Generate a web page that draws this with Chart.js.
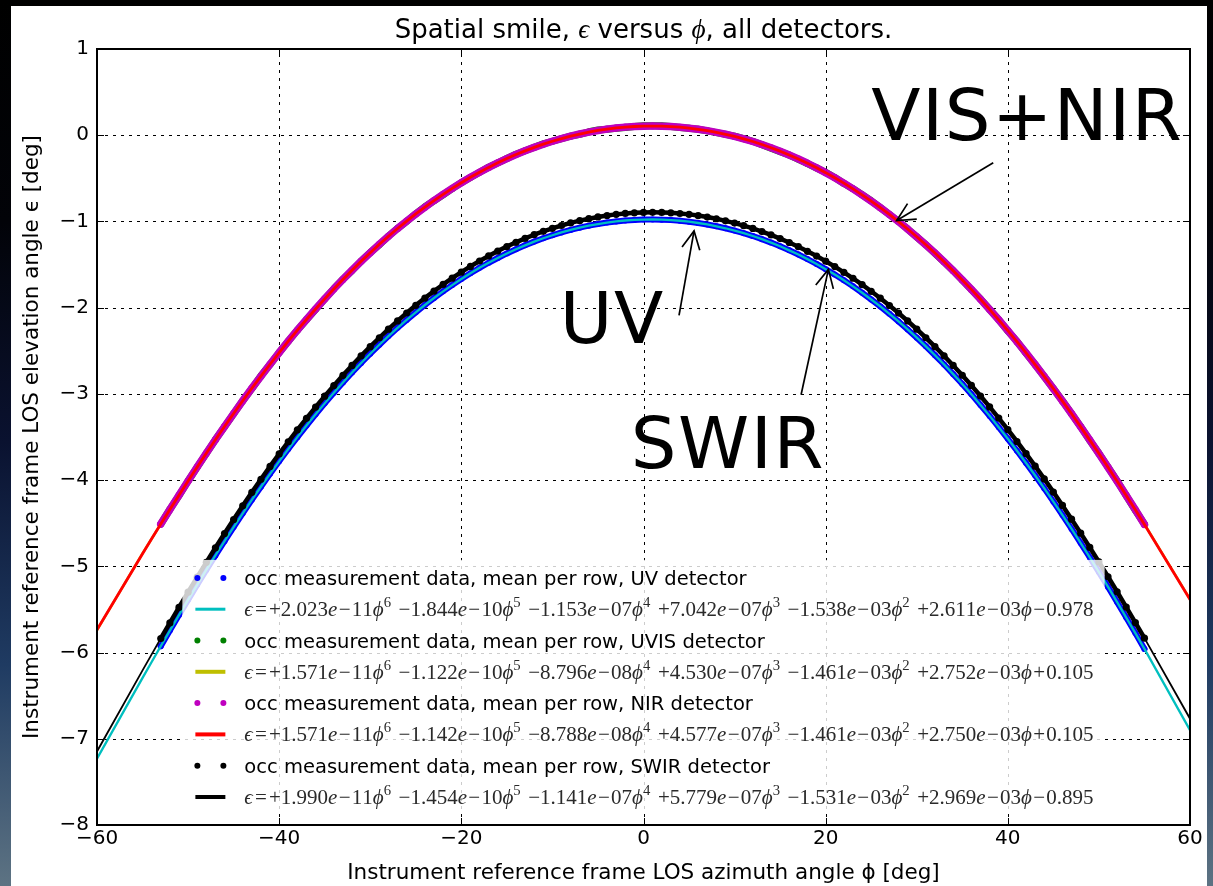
<!DOCTYPE html>
<html>
<head>
<meta charset="utf-8">
<script src="https://cdn.jsdelivr.net/npm/chart.js@4.4.1/dist/chart.umd.min.js"></script>
<style>
  html, body {
    margin: 0; padding: 0; width: 1213px; height: 886px; overflow: hidden;
    background: linear-gradient(180deg, #000 0%, #020308 25%, #0a1230 50%, #1f3b62 75%, #5d7383 100%);
  }
  canvas { position: absolute; left: 0; top: 0; }
</style>
</head>
<body>
<canvas id="smile" width="1213" height="886"></canvas>
<script>
// ---- Azimuth samples (deg) ----
// detector rows (measurements)
const rowAzimuth = [
  -53,-52,-51,-50,-49,-48,-47,-46,-45,-44,-43,-42,-41,-40,-39,-38,-37,-36,-35,-34,
  -33,-32,-31,-30,-29,-28,-27,-26,-25,-24,-23,-22,-21,-20,-19,-18,-17,-16,-15,-14,
  -13,-12,-11,-10,-9,-8,-7,-6,-5,-4,-3,-2,-1,0,1,2,3,4,5,6,7,8,9,10,11,12,13,14,15,16,
  17,18,19,20,21,22,23,24,25,26,27,28,29,30,31,32,33,34,35,36,37,38,39,40,41,42,43,44,
  45,46,47,48,49,50,51,52,53,54,55
];
// polynomial fit curves
const fitAzimuth = [
  -60,-55,-54,
  -53,-52,-51,-50,-49,-48,-47,-46,-45,-44,-43,-42,-41,-40,-39,-38,-37,-36,-35,-34,
  -33,-32,-31,-30,-29,-28,-27,-26,-25,-24,-23,-22,-21,-20,-19,-18,-17,-16,-15,-14,
  -13,-12,-11,-10,-9,-8,-7,-6,-5,-4,-3,-2,-1,0,1,2,3,4,5,6,7,8,9,10,11,12,13,14,15,16,
  17,18,19,20,21,22,23,24,25,26,27,28,29,30,31,32,33,34,35,36,37,38,39,40,41,42,43,44,
  45,46,47,48,49,50,51,52,53,54,55,
  60
];

// ---- Elevation (deg): UV detector ----
const uvFitEps = [
  -7.231, -6.294, -6.109,
  -5.926, -5.745, -5.565, -5.389, -5.214, -5.042, -4.874, -4.708, -4.545, -4.385,
  -4.229, -4.077, -3.927, -3.782, -3.640, -3.502, -3.367, -3.237, -3.110, -2.987,
  -2.868, -2.753, -2.641, -2.534, -2.430, -2.330, -2.234, -2.142, -2.054, -1.969,
  -1.888, -1.811, -1.738, -1.668, -1.601, -1.538, -1.479, -1.424, -1.371, -1.322,
  -1.277, -1.234, -1.195, -1.160, -1.127, -1.098, -1.072, -1.049, -1.030, -1.013,
  -1.000, -0.989, -0.982, -0.978, -0.977, -0.979, -0.984, -0.992, -1.003, -1.018,
  -1.035, -1.056, -1.079, -1.106, -1.136, -1.169, -1.206, -1.245, -1.288, -1.335,
  -1.384, -1.437, -1.493, -1.553, -1.616, -1.683, -1.753, -1.827, -1.905, -1.986,
  -2.071, -2.160, -2.252, -2.348, -2.448, -2.552, -2.659, -2.771, -2.886, -3.005,
  -3.128, -3.255, -3.386, -3.521, -3.659, -3.801, -3.947, -4.096, -4.250, -4.406,
  -4.566, -4.730, -4.897, -5.067, -5.239, -5.415, -5.594, -5.774, -5.958,
  -6.900
];
const uvRowEps = [
  -5.926, -5.745, -5.565, -5.389, -5.214, -5.042, -4.874, -4.708, -4.545, -4.385,
  -4.229, -4.077, -3.927, -3.782, -3.640, -3.502, -3.367, -3.237, -3.110, -2.987,
  -2.868, -2.753, -2.641, -2.534, -2.430, -2.330, -2.234, -2.142, -2.054, -1.969,
  -1.888, -1.811, -1.738, -1.668, -1.601, -1.538, -1.479, -1.424, -1.371, -1.322,
  -1.277, -1.234, -1.195, -1.160, -1.127, -1.098, -1.072, -1.049, -1.030, -1.013,
  -1.000, -0.989, -0.982, -0.978, -0.977, -0.979, -0.984, -0.992, -1.003, -1.018,
  -1.035, -1.056, -1.079, -1.106, -1.136, -1.169, -1.206, -1.245, -1.288, -1.335,
  -1.384, -1.437, -1.493, -1.553, -1.616, -1.683, -1.753, -1.827, -1.905, -1.986,
  -2.071, -2.160, -2.252, -2.348, -2.448, -2.552, -2.659, -2.771, -2.886, -3.005,
  -3.128, -3.255, -3.386, -3.521, -3.659, -3.801, -3.947, -4.096, -4.250, -4.406,
  -4.566, -4.730, -4.897, -5.067, -5.239, -5.415, -5.594, -5.774, -5.958
];

// ---- Elevation (deg): UVIS detector ----
const uvisFitEps = [
  -5.74, -4.85, -4.68,
  -4.51, -4.34, -4.18, -4.01, -3.85, -3.69, -3.53, -3.38, -3.23, -3.08,
  -2.94, -2.79, -2.66, -2.52, -2.39, -2.26, -2.14, -2.02, -1.90, -1.78,
  -1.67, -1.57, -1.46, -1.36, -1.27, -1.17, -1.08, -1.00, -0.91, -0.83,
  -0.76, -0.69, -0.62, -0.55, -0.49, -0.43, -0.37, -0.32, -0.27, -0.22,
  -0.18, -0.14, -0.10, -0.07, -0.04, -0.01, 0.01, 0.04, 0.06, 0.07,
  0.08, 0.09, 0.10, 0.11, 0.11, 0.11, 0.10, 0.09, 0.08, 0.07,
  0.05, 0.03, 0.01, -0.01, -0.04, -0.07, -0.11, -0.15, -0.19, -0.23,
  -0.28, -0.33, -0.38, -0.43, -0.49, -0.56, -0.62, -0.69, -0.76, -0.84,
  -0.92, -1.00, -1.09, -1.18, -1.27, -1.37, -1.47, -1.57, -1.68, -1.79,
  -1.90, -2.02, -2.14, -2.27, -2.39, -2.53, -2.66, -2.80, -2.94, -3.08,
  -3.23, -3.38, -3.54, -3.69, -3.85, -4.01, -4.18, -4.35, -4.51,
  -5.38
];
const uvisRowEps = [
  -4.51, -4.34, -4.18, -4.01, -3.85, -3.69, -3.53, -3.38, -3.23, -3.08,
  -2.94, -2.79, -2.66, -2.52, -2.39, -2.26, -2.14, -2.02, -1.90, -1.78,
  -1.67, -1.57, -1.46, -1.36, -1.27, -1.17, -1.08, -1.00, -0.91, -0.83,
  -0.76, -0.69, -0.62, -0.55, -0.49, -0.43, -0.37, -0.32, -0.27, -0.22,
  -0.18, -0.14, -0.10, -0.07, -0.04, -0.01, 0.01, 0.04, 0.06, 0.07,
  0.08, 0.09, 0.10, 0.11, 0.11, 0.11, 0.10, 0.09, 0.08, 0.07,
  0.05, 0.03, 0.01, -0.01, -0.04, -0.07, -0.11, -0.15, -0.19, -0.23,
  -0.28, -0.33, -0.38, -0.43, -0.49, -0.56, -0.62, -0.69, -0.76, -0.84,
  -0.92, -1.00, -1.09, -1.18, -1.27, -1.37, -1.47, -1.57, -1.68, -1.79,
  -1.90, -2.02, -2.14, -2.27, -2.39, -2.53, -2.66, -2.80, -2.94, -3.08,
  -3.23, -3.38, -3.54, -3.69, -3.85, -4.01, -4.18, -4.35, -4.51
];

// ---- Elevation (deg): NIR detector ----
const nirFitEps = [
  -5.736, -4.854, -4.681,
  -4.510, -4.341, -4.175, -4.010, -3.848, -3.689, -3.532, -3.379, -3.228, -3.080,
  -2.935, -2.794, -2.656, -2.521, -2.389, -2.261, -2.137, -2.015, -1.898, -1.783,
  -1.673, -1.566, -1.462, -1.362, -1.265, -1.172, -1.082, -0.996, -0.913, -0.834,
  -0.758, -0.686, -0.617, -0.551, -0.488, -0.429, -0.373, -0.320, -0.271, -0.224,
  -0.181, -0.141, -0.104, -0.070, -0.039, -0.011, 0.014, 0.036, 0.055, 0.071,
  0.084, 0.094, 0.101, 0.105, 0.106, 0.105, 0.100, 0.093, 0.082, 0.069,
  0.053, 0.033, 0.011, -0.014, -0.042, -0.073, -0.108, -0.145, -0.185, -0.229,
  -0.275, -0.325, -0.378, -0.434, -0.494, -0.556, -0.622, -0.691, -0.764, -0.840,
  -0.919, -1.002, -1.088, -1.178, -1.271, -1.367, -1.467, -1.571, -1.678, -1.788,
  -1.902, -2.020, -2.141, -2.266, -2.394, -2.525, -2.660, -2.798, -2.939, -3.084,
  -3.231, -3.382, -3.536, -3.692, -3.852, -4.014, -4.178, -4.345, -4.514,
  -5.385
];
const nirRowEps = [
  -4.510, -4.341, -4.175, -4.010, -3.848, -3.689, -3.532, -3.379, -3.228, -3.080,
  -2.935, -2.794, -2.656, -2.521, -2.389, -2.261, -2.137, -2.015, -1.898, -1.783,
  -1.673, -1.566, -1.462, -1.362, -1.265, -1.172, -1.082, -0.996, -0.913, -0.834,
  -0.758, -0.686, -0.617, -0.551, -0.488, -0.429, -0.373, -0.320, -0.271, -0.224,
  -0.181, -0.141, -0.104, -0.070, -0.039, -0.011, 0.014, 0.036, 0.055, 0.071,
  0.084, 0.094, 0.101, 0.105, 0.106, 0.105, 0.100, 0.093, 0.082, 0.069,
  0.053, 0.033, 0.011, -0.014, -0.042, -0.073, -0.108, -0.145, -0.185, -0.229,
  -0.275, -0.325, -0.378, -0.434, -0.494, -0.556, -0.622, -0.691, -0.764, -0.840,
  -0.919, -1.002, -1.088, -1.178, -1.271, -1.367, -1.467, -1.571, -1.678, -1.788,
  -1.902, -2.020, -2.141, -2.266, -2.394, -2.525, -2.660, -2.798, -2.939, -3.084,
  -3.231, -3.382, -3.536, -3.692, -3.852, -4.014, -4.178, -4.345, -4.514
];

// ---- Elevation (deg): SWIR detector ----
const swirFitEps = [
  -7.147, -6.206, -6.021,
  -5.837, -5.656, -5.477, -5.300, -5.126, -4.954, -4.785, -4.620, -4.457, -4.298,
  -4.142, -3.990, -3.841, -3.696, -3.555, -3.417, -3.283, -3.153, -3.026, -2.904,
  -2.785, -2.670, -2.559, -2.452, -2.349, -2.249, -2.154, -2.062, -1.973, -1.889,
  -1.808, -1.731, -1.658, -1.588, -1.522, -1.459, -1.400, -1.344, -1.291, -1.242,
  -1.197, -1.154, -1.115, -1.080, -1.047, -1.017, -0.991, -0.968, -0.948, -0.931,
  -0.918, -0.907, -0.900, -0.895, -0.894, -0.895, -0.900, -0.908, -0.918, -0.932,
  -0.949, -0.969, -0.993, -1.019, -1.049, -1.081, -1.117, -1.156, -1.199, -1.244,
  -1.293, -1.346, -1.402, -1.461, -1.524, -1.590, -1.659, -1.733, -1.810, -1.890,
  -1.975, -2.063, -2.154, -2.250, -2.349, -2.452, -2.559, -2.670, -2.784, -2.902,
  -3.025, -3.151, -3.281, -3.414, -3.552, -3.693, -3.838, -3.986, -4.139, -4.294,
  -4.453, -4.615, -4.781, -4.949, -5.121, -5.295, -5.472, -5.652, -5.833,
  -6.767
];
const swirRowEps = [
  -5.837, -5.656, -5.477, -5.300, -5.126, -4.954, -4.785, -4.620, -4.457, -4.298,
  -4.142, -3.990, -3.841, -3.696, -3.555, -3.417, -3.283, -3.153, -3.026, -2.904,
  -2.785, -2.670, -2.559, -2.452, -2.349, -2.249, -2.154, -2.062, -1.973, -1.889,
  -1.808, -1.731, -1.658, -1.588, -1.522, -1.459, -1.400, -1.344, -1.291, -1.242,
  -1.197, -1.154, -1.115, -1.080, -1.047, -1.017, -0.991, -0.968, -0.948, -0.931,
  -0.918, -0.907, -0.900, -0.895, -0.894, -0.895, -0.900, -0.908, -0.918, -0.932,
  -0.949, -0.969, -0.993, -1.019, -1.049, -1.081, -1.117, -1.156, -1.199, -1.244,
  -1.293, -1.346, -1.402, -1.461, -1.524, -1.590, -1.659, -1.733, -1.810, -1.890,
  -1.975, -2.063, -2.154, -2.250, -2.349, -2.452, -2.559, -2.670, -2.784, -2.902,
  -3.025, -3.151, -3.281, -3.414, -3.552, -3.693, -3.838, -3.986, -4.139, -4.294,
  -4.453, -4.615, -4.781, -4.949, -5.121, -5.295, -5.472, -5.652, -5.833
];

// ---- Axis ticks ----
const xTicks = [-60, -40, -20, 0, 20, 40, 60];
const yTicks = [-8, -7, -6, -5, -4, -3, -2, -1, 0, 1];

// ---- Legend texts ----
const legendLabels = [
  'occ measurement data, mean per row, UV detector',
  'ϵ=+2.023e−11ϕ^6 −1.844e−10ϕ^5 −1.153e−07ϕ^4 +7.042e−07ϕ^3 −1.538e−03ϕ^2 +2.611e−03ϕ−0.978',
  'occ measurement data, mean per row, UVIS detector',
  'ϵ=+1.571e−11ϕ^6 −1.122e−10ϕ^5 −8.796e−08ϕ^4 +4.530e−07ϕ^3 −1.461e−03ϕ^2 +2.752e−03ϕ+0.105',
  'occ measurement data, mean per row, NIR detector',
  'ϵ=+1.571e−11ϕ^6 −1.142e−10ϕ^5 −8.788e−08ϕ^4 +4.577e−07ϕ^3 −1.461e−03ϕ^2 +2.750e−03ϕ+0.105',
  'occ measurement data, mean per row, SWIR detector',
  'ϵ=+1.990e−11ϕ^6 −1.454e−10ϕ^5 −1.141e−07ϕ^4 +5.779e−07ϕ^3 −1.531e−03ϕ^2 +2.969e−03ϕ−0.895'
];

// ---- Detector call-outs: label anchor and arrow, in (azimuth, elevation) ----
const callouts = [
  { text: 'VIS+NIR', at: [25.0, -0.05], tail: [38.4, -0.32], head: [27.8, -0.99] },
  { text: 'UV',      at: [-9.2, -2.41], tail: [3.9, -2.09],  head: [5.55, -1.11] },
  { text: 'SWIR',    at: [-1.4, -3.86], tail: [17.3, -3.01], head: [20.3, -1.556] }
];

const SANS = "'DejaVu Sans', 'Bitstream Vera Sans', sans-serif";
const SERIF = "'Liberation Serif', 'DejaVu Serif', serif";
const minus = v => (v < 0 ? '\u2212' + Math.abs(v) : String(v));

const rows = eps => rowAzimuth.map((x, i) => ({ x, y: eps[i] }));
const fits = eps => fitAzimuth.map((x, i) => ({ x, y: eps[i] }));

// ---- tiny math-text layout for the fit equations ----
function mathRuns(label) {
  const chars = Array.from(label);
  const runs = [];
  for (let i = 0; i < chars.length; i++) {
    const ch = chars[i], prev = chars[i - 1];
    if (ch === '^') { runs.push({ t: chars[++i], sup: true }); continue; }
    if (ch === ' ') { runs.push({ gap: 0.36 }); continue; }
    if (ch === '=') { runs.push({ t: '=', padL: 0.1, padR: 0.1 }); continue; }
    if ((ch === '\u2212' || ch === '+') && prev && prev !== ' ' && prev !== '=') {
      runs.push({ t: ch, padL: 0.06, padR: 0.06 }); continue;
    }
    runs.push({ t: ch, italic: ch === 'e' || ch === 'ϵ' || ch === 'ϕ' });
  }
  return runs;
}
function runFont(r, size) {
  const s = r.sup ? size * 0.7 : size;
  return (r.italic ? 'italic ' : '') + s + 'px ' + SERIF;
}
function runsWidth(ctx, runs, size) {
  let w = 0;
  runs.forEach(r => {
    if (r.gap) { w += r.gap * size; return; }
    ctx.font = runFont(r, size);
    w += (r.padL || 0) * size + ctx.measureText(r.t).width + (r.padR || 0) * size;
  });
  return w;
}
function drawRuns(ctx, runs, size, x, baseline) {
  runs.forEach(r => {
    if (r.gap) { x += r.gap * size; return; }
    ctx.font = runFont(r, size);
    x += (r.padL || 0) * size;
    ctx.fillText(r.t, x, baseline - (r.sup ? 0.42 * size : 0));
    x += ctx.measureText(r.t).width + (r.padR || 0) * size;
  });
}
const isMath = d => d.label.startsWith('ϵ');

// ---- plugins ----
const figureBackground = {
  id: 'figureBackground',
  beforeDraw(chart) {
    const { ctx } = chart;
    ctx.save();
    ctx.fillStyle = '#ffffff';
    ctx.fillRect(11, 6, 1196, 880);
    ctx.restore();
  }
};

const dottedGrid = {
  id: 'dottedGrid',
  beforeDatasetsDraw(chart) {
    const { ctx, chartArea: a, scales: { x, y } } = chart;
    ctx.save();
    ctx.strokeStyle = '#000';
    ctx.lineWidth = 1;
    ctx.setLineDash([3, 5]);
    xTicks.forEach(v => {
      const px = Math.round(x.getPixelForValue(v)) + 0.5;
      ctx.beginPath(); ctx.moveTo(px, a.bottom); ctx.lineTo(px, a.top); ctx.stroke();
    });
    yTicks.forEach(v => {
      const py = Math.round(y.getPixelForValue(v)) + 0.5;
      ctx.beginPath(); ctx.moveTo(a.left, py); ctx.lineTo(a.right, py); ctx.stroke();
    });
    ctx.restore();
  }
};

function drawLegend(chart) {
  const { ctx, chartArea: a } = chart;
  const sets = chart.data.datasets;
  const rowH = 31.3, sansSize = 19.5;
  ctx.save();
  const mathRef = Math.max(...sets.filter(isMath).map(d => runsWidth(ctx, mathRuns(d.label), 20)));
  const mathSize = 20 * 850 / mathRef;
  ctx.font = sansSize + 'px ' + SANS;
  const widths = sets.map(d => isMath(d)
    ? runsWidth(ctx, mathRuns(d.label), mathSize)
    : (ctx.font = sansSize + 'px ' + SANS, ctx.measureText(d.label).width));
  const boxW = 62 + Math.max(...widths) + 11;
  const boxX = (a.left + a.right) / 2 - boxW / 2;
  const boxBottom = a.bottom - 14;
  const firstRow = boxBottom - 14 - 7 * rowH;
  const boxTop = firstRow - 18;
  ctx.fillStyle = 'rgba(255,255,255,0.8)';
  ctx.fillRect(boxX, boxTop, boxW, boxBottom - boxTop);
  sets.forEach((d, i) => {
    const y = firstRow + i * rowH;
    const hx = boxX + 13;
    if (d.legendKind === 'dots') {
      ctx.fillStyle = d.backgroundColor;
      [hx + 2, hx + 28].forEach(cx => { ctx.beginPath(); ctx.arc(cx, y, 3, 0, Math.PI * 2); ctx.fill(); });
    } else {
      ctx.strokeStyle = d.borderColor;
      ctx.lineWidth = d.legendWidth;
      ctx.beginPath(); ctx.moveTo(hx, y); ctx.lineTo(hx + 30, y); ctx.stroke();
    }
    const tx = boxX + 62;
    ctx.textBaseline = 'alphabetic';
    if (isMath(d)) {
      ctx.fillStyle = '#2a2a2a';
      drawRuns(ctx, mathRuns(d.label), mathSize, tx, y + 0.32 * mathSize);
    } else {
      ctx.fillStyle = '#000';
      ctx.font = sansSize + 'px ' + SANS;
      ctx.fillText(d.label, tx, y + 0.36 * sansSize);
    }
  });
  ctx.restore();
}

function drawCallouts(chart) {
  const { ctx, scales: { x, y } } = chart;
  ctx.save();
  ctx.fillStyle = '#000';
  ctx.strokeStyle = '#000';
  ctx.textBaseline = 'alphabetic';
  ctx.textAlign = 'left';
  ctx.font = '72px ' + SANS;
  if ('letterSpacing' in ctx) ctx.letterSpacing = '1.5px';
  callouts.forEach(c => {
    ctx.fillText(c.text, x.getPixelForValue(c.at[0]), y.getPixelForValue(c.at[1]));
    const tx = x.getPixelForValue(c.tail[0]), ty = y.getPixelForValue(c.tail[1]);
    const hx = x.getPixelForValue(c.head[0]), hy = y.getPixelForValue(c.head[1]);
    const len = Math.hypot(hx - tx, hy - ty);
    const ux = (hx - tx) / len, uy = (hy - ty) / len;
    const L = 18, W = 9;
    ctx.lineWidth = 1.7;
    ctx.beginPath(); ctx.moveTo(tx, ty); ctx.lineTo(hx, hy); ctx.stroke();
    ctx.beginPath();
    ctx.moveTo(hx - ux * L - uy * W, hy - uy * L + ux * W);
    ctx.lineTo(hx, hy);
    ctx.lineTo(hx - ux * L + uy * W, hy - uy * L - ux * W);
    ctx.stroke();
  });
  ctx.restore();
}

function drawFrame(chart) {
  const { ctx, chartArea: a, scales: { x, y } } = chart;
  ctx.save();
  ctx.strokeStyle = '#000';
  ctx.lineWidth = 1;
  const T = 7;
  xTicks.forEach(v => {
    const px = Math.round(x.getPixelForValue(v)) + 0.5;
    ctx.beginPath();
    ctx.moveTo(px, a.bottom); ctx.lineTo(px, a.bottom - T);
    ctx.moveTo(px, a.top); ctx.lineTo(px, a.top + T);
    ctx.stroke();
  });
  yTicks.forEach(v => {
    const py = Math.round(y.getPixelForValue(v)) + 0.5;
    ctx.beginPath();
    ctx.moveTo(a.left, py); ctx.lineTo(a.left + T, py);
    ctx.moveTo(a.right, py); ctx.lineTo(a.right - T, py);
    ctx.stroke();
  });
  ctx.lineWidth = 2;
  ctx.strokeRect(a.left, a.top, a.right - a.left, a.bottom - a.top);
  ctx.restore();
}

function drawTitle(chart) {
  const { ctx, chartArea: a } = chart;
  const size = 26;
  const sans = size + 'px ' + SANS;
  const math = 'italic ' + (size * 1.05) + 'px ' + SERIF;
  const parts = [
    { t: 'Spatial smile, ', f: sans },
    { t: 'ϵ', f: math },
    { t: ' versus ', f: sans },
    { t: 'ϕ', f: math },
    { t: ', all detectors.', f: sans }
  ];
  ctx.save();
  ctx.fillStyle = '#000';
  ctx.textBaseline = 'alphabetic';
  ctx.textAlign = 'left';
  let total = 0;
  parts.forEach(p => { ctx.font = p.f; p.w = ctx.measureText(p.t).width; total += p.w; });
  let x = (a.left + a.right) / 2 - total / 2;
  parts.forEach(p => { ctx.font = p.f; ctx.fillText(p.t, x, 38); x += p.w; });
  ctx.restore();
}

const overlays = {
  id: 'overlays',
  afterDatasetsDraw(chart) {
    drawLegend(chart);
    drawCallouts(chart);
    drawFrame(chart);
    drawTitle(chart);
  }
};

// ---- datasets (listed in legend order; `order` stacks later ones on top) ----
const datasets = [
  { label: legendLabels[0], legendKind: 'dots', data: rows(uvRowEps), order: 8,
    borderColor: '#0000ff', backgroundColor: '#0000ff', borderWidth: 6, pointRadius: 3, showLine: true },
  { label: legendLabels[1], legendKind: 'line', legendWidth: 3, data: fits(uvFitEps), order: 7,
    borderColor: '#00bfbf', backgroundColor: '#00bfbf', borderWidth: 2.3, pointRadius: 0, showLine: true },
  { label: legendLabels[2], legendKind: 'dots', data: rows(uvisRowEps), order: 6,
    borderColor: '#008000', backgroundColor: '#008000', borderWidth: 7, pointRadius: 3, showLine: true },
  { label: legendLabels[3], legendKind: 'line', legendWidth: 4, data: fits(uvisFitEps), order: 5,
    borderColor: '#bfbf00', backgroundColor: '#bfbf00', borderWidth: 2.5, pointRadius: 0, showLine: true },
  { label: legendLabels[4], legendKind: 'dots', data: rows(nirRowEps), order: 4,
    borderColor: '#bf00bf', backgroundColor: '#bf00bf', borderWidth: 7.5, pointRadius: 3.5, showLine: true },
  { label: legendLabels[5], legendKind: 'line', legendWidth: 4, data: fits(nirFitEps), order: 3,
    borderColor: '#ff0000', backgroundColor: '#ff0000', borderWidth: 2.8, pointRadius: 0, showLine: true },
  { label: legendLabels[6], legendKind: 'dots', data: rows(swirRowEps), order: 2,
    borderColor: '#000000', backgroundColor: '#000000', borderWidth: 4.5, pointRadius: 3.6, showLine: true },
  { label: legendLabels[7], legendKind: 'line', legendWidth: 4, data: fits(swirFitEps), order: 1,
    borderColor: '#000000', backgroundColor: '#000000', borderWidth: 1.8, pointRadius: 0, showLine: true }
];
datasets.forEach(d => {
  d.pointBorderWidth = 0;
  d.pointHoverRadius = 0;
  d.tension = 0;
  d.borderCapStyle = 'round';
  d.borderJoinStyle = 'round';
  d.clip = 0;
});

new Chart(document.getElementById('smile'), {
  type: 'scatter',
  data: { datasets },
  plugins: [figureBackground, dottedGrid, overlays],
  options: {
    responsive: false,
    animation: false,
    events: [],
    layout: { padding: { left: 20, right: 23, top: 49, bottom: 0 } },
    plugins: { legend: { display: false }, tooltip: { enabled: false }, title: { display: false } },
    scales: {
      x: {
        type: 'linear', min: -60, max: 60,
        afterBuildTicks: s => { s.ticks = xTicks.map(value => ({ value })); },
        afterFit: s => { s.height = 61; },
        ticks: { autoSkip: false, maxRotation: 0, padding: 2, color: '#000',
                 font: { family: SANS, size: 20 }, callback: v => minus(v) },
        grid: { display: false, drawTicks: false },
        border: { display: false },
        title: { display: true, text: 'Instrument reference frame LOS azimuth angle ϕ [deg]',
                 color: '#000', font: { family: SANS, size: 21.5 }, padding: 0 }
      },
      y: {
        type: 'linear', min: -8, max: 1,
        afterBuildTicks: s => { s.ticks = yTicks.map(value => ({ value })); },
        afterFit: s => { s.width = 77; },
        ticks: { autoSkip: false, padding: 8, color: '#000',
                 font: { family: SANS, size: 20 }, callback: v => minus(v) },
        grid: { display: false, drawTicks: false },
        border: { display: false },
        title: { display: true, text: 'Instrument reference frame LOS elevation angle ϵ [deg]',
                 color: '#000', font: { family: SANS, size: 21.5 }, padding: 0 }
      }
    }
  }
});
</script>
</body>
</html>
